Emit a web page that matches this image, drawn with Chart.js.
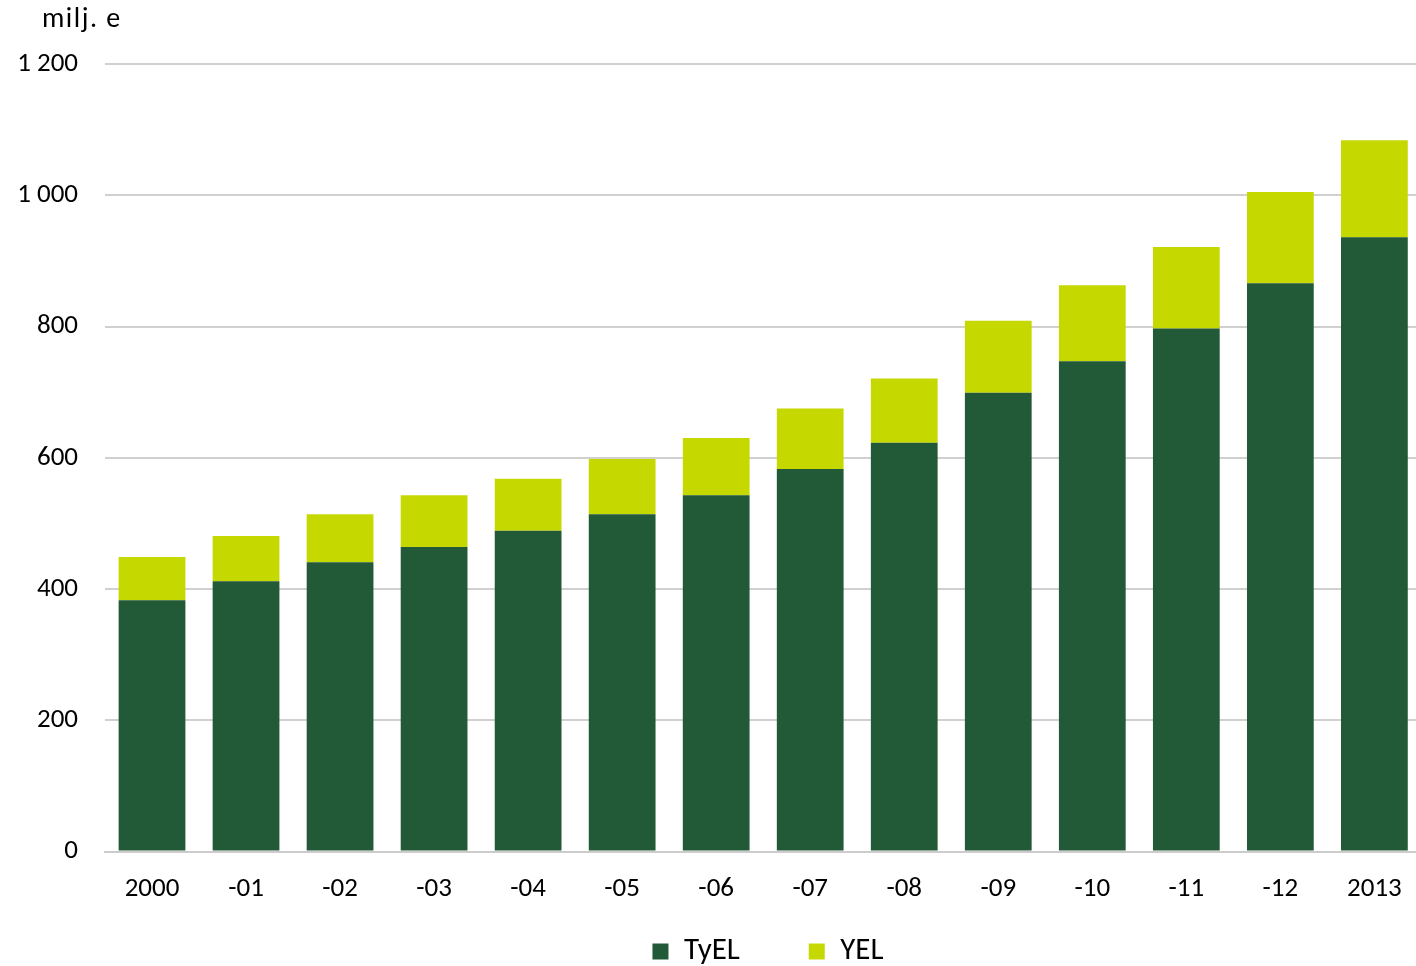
<!DOCTYPE html>
<html>
<head>
<meta charset="utf-8">
<script src="https://cdn.jsdelivr.net/npm/chart.js@4"></script>
<style>
  html, body { margin: 0; padding: 0; background: #fff; }
  #wrap { width: 1416px; height: 966px; }
</style>
</head>
<body>
<div id="wrap"><canvas id="myChart"></canvas></div>
<script>
const years = ["2000", "-01", "-02", "-03", "-04", "-05", "-06", "-07", "-08", "-09", "-10", "-11", "-12", "2013"];
const tyel = [383, 412, 441, 464, 489, 514, 543, 583, 623, 699, 747, 797, 866, 936];
const yel = [66, 69, 73, 79, 79, 84, 87, 92, 98, 110, 116, 124, 139, 148];
const unitLabel = "milj. e";

const ctx = document.getElementById("myChart");
const fontFamily = "Carlito, Lato, 'Liberation Sans', sans-serif";

// small unit text above the y axis
const unitPlugin = {
  id: "unitLabel",
  afterDraw(chart) {
    const c = chart.ctx;
    c.save();
    c.font = "28px " + fontFamily;
    c.letterSpacing = "1.5px";
    c.fillStyle = "#000";
    c.textBaseline = "middle";
    c.fillText(unitLabel, 42, 20);
    c.restore();
  }
};

// legend: fixed height, centred a bit right of the middle;
// plot area runs a few px past the right edge like the original
const layoutTweak = {
  id: "layoutTweak",
  beforeInit(chart) {
    const fit = chart.legend.fit;
    chart.legend.fit = function () {
      fit.bind(chart.legend)();
      this.height = 40;
    };
  },
  afterLayout(chart) {
    chart.legend.left += 120;
    const x = chart.scales.x;
    x.right += 7;
    x.width += 7;
    x.configure();
    chart.chartArea.right += 7;
    chart.chartArea.width += 7;
  }
};

const fmt = (v) => String(v).replace(/\B(?=(\d{3})+(?!\d))/g, " ");

new Chart(ctx, {
  type: "bar",
  data: {
    labels: years,
    datasets: [
      { label: "TyEL\u2002\u2002\u2002\u2009\u2009", data: tyel, backgroundColor: "#225937", borderWidth: 0 },
      { label: "YEL", data: yel, backgroundColor: "#c5d800", borderWidth: 0 }
    ]
  },
  options: {
    responsive: true,
    maintainAspectRatio: false,
    animation: false,
    datasets: { bar: { categoryPercentage: 1, barPercentage: 0.71 } },
    layout: { padding: { top: 64, right: 0, left: 0, bottom: 0 } },
    plugins: {
      tooltip: { enabled: false },
      legend: {
        position: "bottom",
        labels: {
          boxWidth: 16, boxHeight: 16, padding: 10,
          color: "#000",
          font: { family: fontFamily, size: 31 }
        }
      }
    },
    scales: {
      x: {
        stacked: true,
        grid: { display: false, drawTicks: false },
        border: { display: true, color: "#cccccc", width: 2 },
        ticks: { color: "#000", font: { family: fontFamily, size: 27 }, padding: 21 }
      },
      y: {
        stacked: true,
        min: 0, max: 1200,
        afterFit: (scale) => { scale.width = 105; },
        grid: { color: "#d0d0d0", lineWidth: 2, drawTicks: false },
        border: { display: false },
        ticks: {
          stepSize: 200,
          color: "#000",
          padding: 27,
          font: { family: fontFamily, size: 27 },
          callback: (v) => fmt(v)
        }
      }
    }
  },
  plugins: [unitPlugin, layoutTweak]
});
</script>
</body>
</html>
